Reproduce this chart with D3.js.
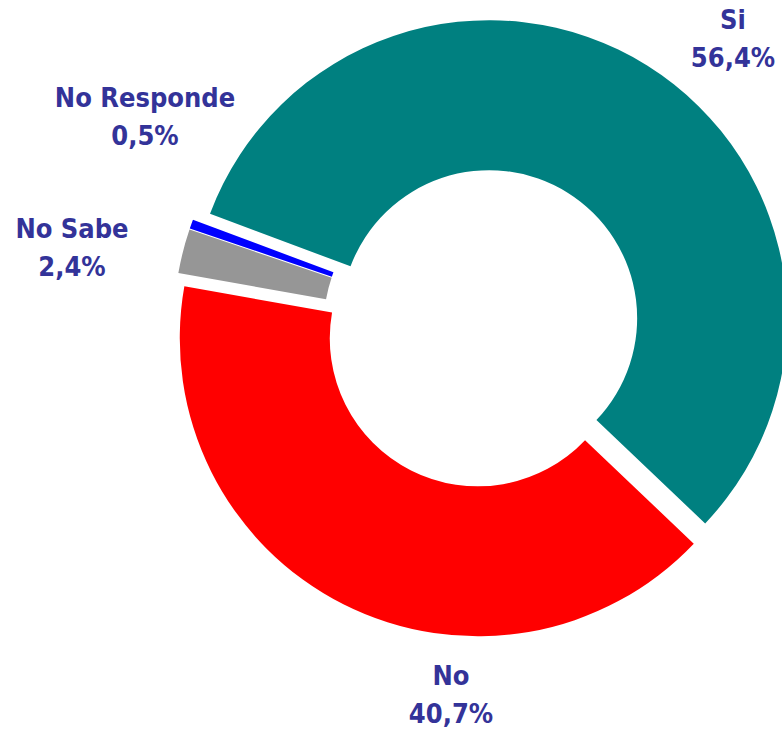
<!DOCTYPE html>
<html lang="es">
<head>
  <meta charset="UTF-8" />
  <title>Donut</title>
  <script src="https://d3js.org/d3.v7.min.js"></script>
  <style>
    body { margin: 0; background: #fff; }
    .lbl { font-family: "DejaVu Sans Condensed", "DejaVu Sans", sans-serif; font-stretch: condensed; font-weight: bold; font-size: 27px; fill: #333399; }
  </style>
</head>
<body>
  <div id="chart"></div>
  <script>
    // data
    const categories = ["Si", "No", "No Sabe", "No Responde"];
    const values = [56.4, 40.7, 2.4, 0.5];
    const valueLabels = ["56,4%", "40,7%", "2,4%", "0,5%"];
    const colors = ["#008080", "#ff0000", "#969696", "#0000ff"];

    // label anchors (center x, first baseline)
    const labelPos = [[733, 29], [451, 685], [72, 238], [145, 107]];

    const width = 782, height = 729;
    const cx = 483, cy = 328;
    const outerR = 298, innerR = 148, explode = 11.6;

    const svg = d3.select("#chart")
      .append("svg")
      .attr("width", width)
      .attr("height", height);

    const pie = d3.pie()
      .sort(null)
      .startAngle(-69.5 * Math.PI / 180)
      .endAngle((360 - 69.5) * Math.PI / 180);

    const arc = d3.arc().innerRadius(innerR).outerRadius(outerR);

    const arcs = pie(values);

    const g = svg.append("g").attr("transform", `translate(${cx},${cy})`);

    // slices pulled out along their bisector
    g.selectAll("path")
      .data(arcs)
      .enter()
      .append("path")
      .attr("d", arc)
      .attr("fill", (d, i) => colors[i])
      .attr("transform", d => {
        const mid = (d.startAngle + d.endAngle) / 2;
        return `translate(${explode * Math.sin(mid)},${-explode * Math.cos(mid)})`;
      });

    categories.forEach((c, i) => {
      const t = svg.append("text")
        .attr("class", "lbl")
        .attr("text-anchor", "middle")
        .attr("x", labelPos[i][0])
        .attr("y", labelPos[i][1]);
      t.append("tspan").attr("x", labelPos[i][0]).text(c);
      t.append("tspan").attr("x", labelPos[i][0]).attr("dy", 38).text(valueLabels[i]);
    });
  </script>
</body>
</html>
